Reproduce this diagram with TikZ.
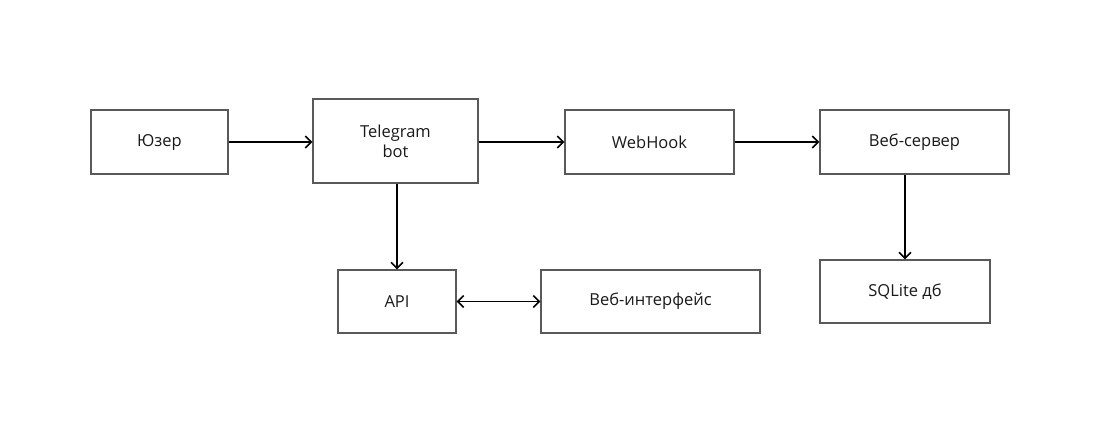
\documentclass[tikz,border=0pt]{standalone}
\usepackage{fontspec}
\setmainfont{Open Sans}
\usetikzlibrary{arrows.meta}
\begin{document}
\begin{tikzpicture}[x=1pt,y=-1pt,
  box/.style={draw=black!65,line width=1.2pt,inner sep=0pt,font=\fontsize{16.5}{20}\selectfont,align=center,text=black!90},
  tip/.tip={Straight Barb[length=6pt,width=12pt,line width=1.6pt]},
  conn/.style={line width=1.6pt,-tip}]
\useasboundingbox (0,0) rectangle (1100,433);
\node[box,minimum width=137pt,minimum height=64pt] (u) at (159.5,142) {Юзер};
\node[box,minimum width=165pt,minimum height=84pt] (tg) at (395.5,141) {Telegram\\bot};
\node[box,minimum width=169pt,minimum height=64pt] (wh) at (649.5,142) {WebHook};
\node[box,minimum width=189pt,minimum height=64pt] (srv) at (914.5,142) {Веб-сервер};
\node[box,minimum width=170pt,minimum height=63pt] (db) at (905,291.5) {SQLite дб};
\node[box,minimum width=118pt,minimum height=63pt] (api) at (397,301.5) {API};
\node[box,minimum width=219pt,minimum height=63pt] (web) at (650.5,301.5) {Веб-интерфейс};
\draw[conn] (u.east) -- (tg.west |- u.east);
\draw[conn] (tg.east |- wh.west) -- (wh.west);
\draw[conn] (wh) -- (srv);
\draw[conn] (api.north |- tg.south) -- (api.north);
\draw[conn] (db.north |- srv.south) -- (db.north);
\draw[line width=1.6pt,tip-tip] (api) -- (web);
\end{tikzpicture}
\end{document}
